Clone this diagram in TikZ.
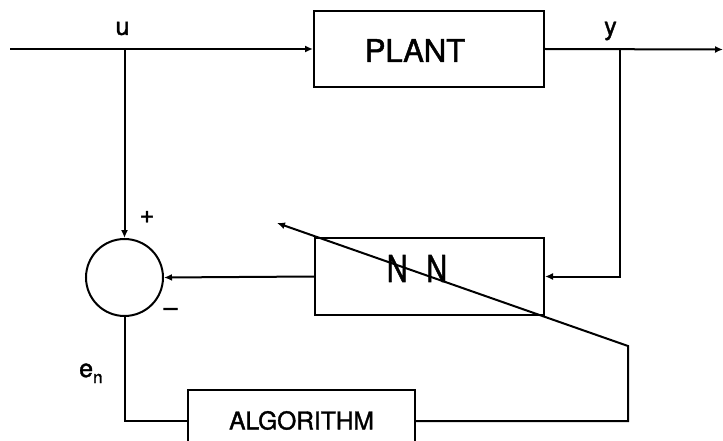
\documentclass[tikz,border=0pt]{standalone}
\usepackage{fontspec}
\setmainfont{TeX Gyre Heros}[FakeBold=1.5]
\usetikzlibrary{arrows.meta}
\tikzset{
  wire/.style={line width=2pt},
  arr/.style={wire,-{Latex[length=8pt,width=7pt]}},
  blockbox/.style={draw,line width=2pt,rectangle,inner sep=0pt},
  lbl/.style={inner sep=0pt,font=\fontsize{25}{25}\selectfont}
}
\begin{document}
\begin{tikzpicture}[x=1pt,y=-1pt]
\useasboundingbox (0,0) rectangle (723,441);
% blocks
\node[blockbox,minimum width=230pt,minimum height=76pt] (plant) at (429,49) {};
\node[inner sep=0pt,font=\fontsize{31}{31}\selectfont] (plantt) at (415,50.5) {PLANT};
\node[blockbox,minimum width=229pt,minimum height=77pt] (nn) at (429.5,276.5) {};
\node[inner sep=0pt,font=\fontsize{37}{37}\selectfont,xscale=0.78] (nnt) at (417,268.5) {N\hspace{0.65em}N};
\node[blockbox,minimum width=227pt,minimum height=62pt,font=\fontsize{24.5}{24.5}\selectfont] (alg) at (301.5,421) {\raisebox{1.5pt}{ALGORITHM}};
\node[draw,circle,line width=2pt,minimum size=77pt,inner sep=0pt] (sum) at (124.5,277.5) {};
% junctions
\coordinate (in) at (10,49);
\coordinate (uj) at (124.5,49);
\coordinate (yj) at (620,49);
\coordinate (out) at (723,49.5);
\coordinate (c1) at (628,346);
\coordinate (tip) at (277,223);
% wires
\draw[wire] (in) -- (uj);
\draw[arr] (uj) -- (plant.west);
\draw[arr] (plant.east) -- (out);
\draw[arr] (uj) -- (sum.north);
\draw[arr] (yj) |- (nn.east);
\draw[arr] (nn.west) -- (sum.east);
\draw[wire] (sum.south) |- (alg.west);
\draw[arr] (alg.east) -| (c1) -- (tip);
% labels
\node[lbl] (ul) at (122.5,28.5) {u};
\node[lbl] (yl) at (610.5,31) {y};
\node[lbl] (pl) at (147,217) {+};
\node[lbl] (ml) at (170.5,312) {\textendash};
\node[lbl,anchor=base west] (el) at (79,377) {e\raisebox{-6pt}{\fontsize{17}{17}\selectfont n}};
\end{tikzpicture}
\end{document}
